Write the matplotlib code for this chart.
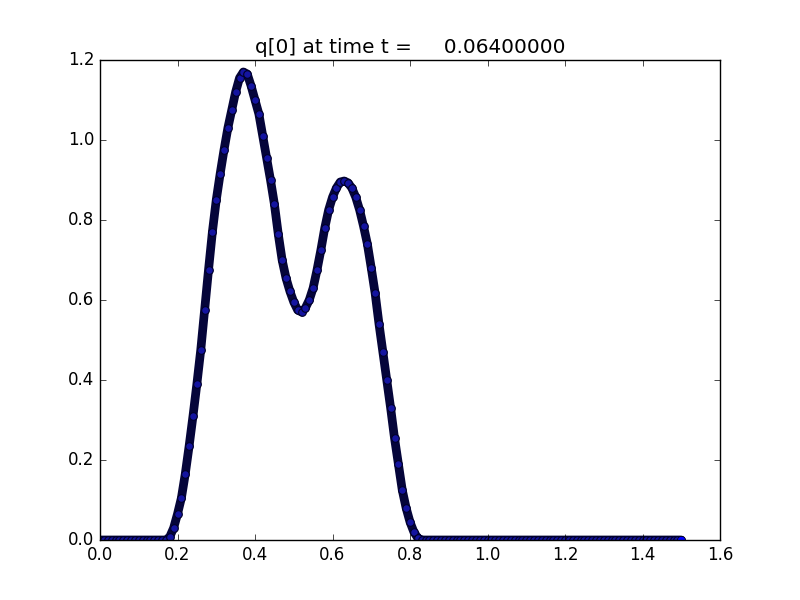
#!/usr/bin/env python3
# -*- coding: utf-8 -*-

import numpy as np
import matplotlib
matplotlib.use('Agg')
import matplotlib.pyplot as plt

# grid spacing of the cells and where the bump sits
dx = 0.01
x_start, x_end = 0.0, 1.5
bump_start = 0.17

# q[0] values, x = 0.17 .. 0.83 step 0.01
q_bump = [0.0, 0.008, 0.03, 0.065, 0.105, 0.165, 0.235, 0.31, 0.39, 0.475,
          0.575, 0.675, 0.77, 0.85, 0.915, 0.975, 1.03, 1.075, 1.12, 1.155,
          1.17, 1.165, 1.135, 1.10, 1.065, 1.01, 0.955, 0.90, 0.84, 0.765,
          0.70, 0.655, 0.622, 0.595, 0.575, 0.57, 0.58, 0.60, 0.63, 0.675,
          0.725, 0.78, 0.825, 0.857, 0.88, 0.895, 0.8975, 0.893, 0.88, 0.857,
          0.825, 0.785, 0.74, 0.68, 0.617, 0.54, 0.47, 0.40, 0.33, 0.255,
          0.19, 0.125, 0.08, 0.045, 0.02, 0.005, 0.0]

t = 0.064

x = np.round(np.arange(x_start, x_end + dx / 2, dx), 6)
q = np.zeros_like(x)
i0 = int(round(bump_start / dx))
q[i0:i0 + len(q_bump)] = q_bump

plt.style.use('classic')
fig = plt.figure(figsize=(8, 6), dpi=100)
ax = fig.add_subplot(111)
# overlapping cell markers read as a dark band with blue flecks
ax.plot(x, q, '-', color='#05053a', lw=6.3, solid_capstyle='round')
ax.plot(x[:-1], q[:-1], 'o', mfc='#1414a0', mec='#000028', mew=0.8, ms=5.5)
ax.plot(x[-1:], q[-1:], 'o', mfc='b', mec='k', ms=6)
ax.set_xlim(0, 1.6)
ax.set_ylim(0, 1.2)
ax.set_title('q[0] at time t = %14.8f' % t)
fig.savefig('out.png', dpi=100)
